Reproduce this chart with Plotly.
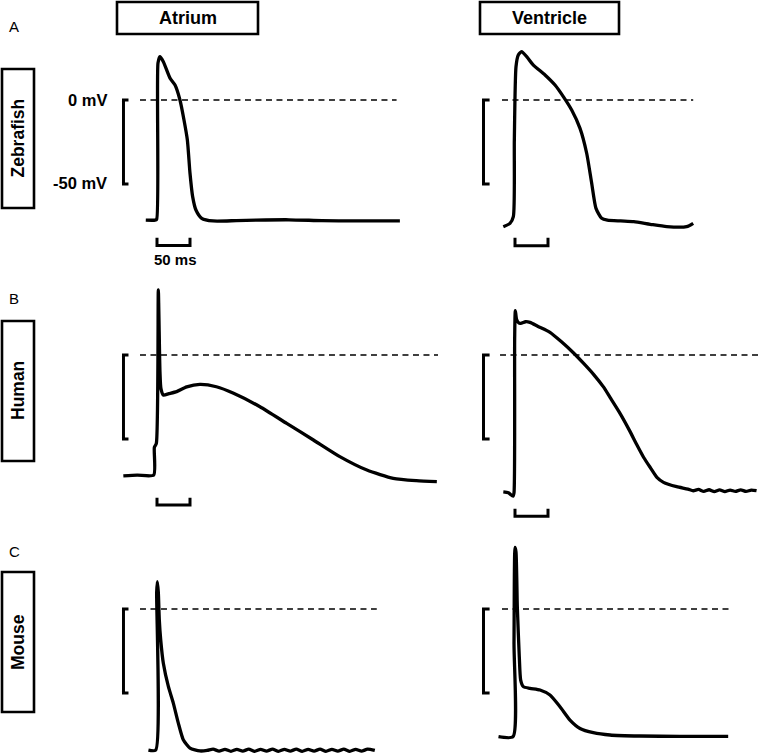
import plotly.graph_objects as go

# ---------------- data (time in ms, membrane potential in mV) ----------------
zebrafish_atrium_t = [-17, -3, -0.5, 1.5, 4.5, 9.6, 19.7, 27.3, 34.8, 40.9, 46, 50, 54, 59, 67.7, 85,
                      120, 150, 200, 250, 300, 368]
zebrafish_atrium_v = [-71.5, -71.5, -71, 22, 25.8, 22.8, 13, 8.9, 0, -11.9, -23.8, -43.6, -57.5, -65.5,
                      -70.4, -72, -71.8, -71.5, -71.3, -71.8, -72, -72]

zebrafish_ventricle_t = [-17.7, -7.6, -2.5, -1, 1.5, 5, 10.1, 17.7, 27.8, 45.5, 60.6, 73.2, 85.9, 98.5,
                         108.6, 116.2, 122.7, 131.3, 140, 160, 180, 205, 230, 260, 270]
zebrafish_ventricle_v = [-75.4, -73.4, -69.4, -23.8, 19.8, 26.8, 28.8, 25.8, 20.8, 14.9, 8.9, 2, -6, -16.9,
                         -31.7, -49.6, -64.5, -70.4, -71.5, -72, -72.4, -74, -75.4, -75.4, -73.4]

human_atrium_t = [-51, -30, -5, -4, -1, 2, 4.5, 6, 9.6, 18, 29.8, 45, 65, 90, 116, 156, 196.5, 237,
                  277, 318, 358, 393, 424]
human_atrium_v = [-72, -71.5, -71.5, -55, -52.6, 38.7, -10, -20, -23.8, -23, -21.8, -19, -17.5, -18.9,
                  -22.8, -30.8, -40.7, -50.6, -60.5, -68.5, -73.4, -74.8, -75.4]

human_ventricle_t = [-17.7, -10, -3, -1.5, -0.5, 0.5, 2.5, 6, 10, 16, 22.7, 35, 53, 70, 88, 104, 119,
                     134, 144, 158, 174, 184, 195, 205, 215, 225, 245, 262, 270, 278, 286, 294, 302,
                     310, 318, 326, 334, 342, 350, 358, 366]
human_ventricle_v = [-81.5, -82, -84, -82, 10, 26.4, 21, 19, 19, 19.8, 19.4, 17, 13.5, 8, 1.5, -5, -11.5,
                     -19, -25.2, -34, -45.3, -53, -61, -67, -72.8, -75.8, -78.4, -79.8, -80.8, -80, -81.2,
                     -80.2, -81.3, -80.3, -81.3, -80.4, -81.2, -80.3, -81.2, -80.4, -80.8]

mouse_atrium_t = [-13, -2, -0.5, 0.5, 2, 3.5, 5.6, 9.6, 17.2, 24.7, 32.3, 39.8, 50, 65, 76, 85, 94,
                  103, 112, 121, 130, 139, 148, 157, 166, 175, 184, 193, 202, 211, 220, 229, 238,
                  247, 256, 265, 274, 283, 292, 301, 310, 319, 330]
mouse_atrium_v = [-84, -84, 10, 16.3, 10, -6.4, -18.3, -32.3, -46.1, -56, -67.9, -77.8, -82.8, -84.5,
                  -84.2, -83.4, -84.6, -83.5, -84.7, -83.5, -84.6, -83.4, -84.7, -83.5, -84.6, -83.4,
                  -84.7, -83.5, -84.6, -83.4, -84.7, -83.5, -84.6, -83.4, -84.7, -83.5, -84.6, -83.4,
                  -84.7, -83.5, -84.6, -83.4, -84.2]

mouse_ventricle_t = [-25, -3, -1.5, 0, 1.5, 3.5, 6.5, 8.6, 12.6, 22.7, 37.9, 53, 68.2, 83.3, 98.5,
                     118.7, 144, 189, 250, 323]
mouse_ventricle_v = [-76, -76, -20, 36.7, 34, 1.4, -28.4, -42.3, -46.2, -47.2, -48.2, -51.2, -58.2,
                     -66.1, -71.1, -73.6, -75, -75.6, -75.8, -75.8]

column_labels = ["Atrium", "Ventricle"]
row_labels = ["Zebrafish", "Human", "Mouse"]
panel_letters = ["A", "B", "C"]
scale_mv = 50   # vertical scale bar (mV)
scale_ms = 50   # horizontal scale bar (ms)

# ---------------- layout geometry ----------------
W, H = 762, 756
KX, KY = 0.66, 1.68          # px per ms, px per mV
col_x0 = [157, 515]          # pixel x of t = 0
row_y0 = [100, 355, 609]     # pixel y of V = 0
col_trange = [(-60, 440), (-60, 373)]
row_vrange = [(-100, 45), (-100, 45), (-87.5, 45)]

panels = [
    # row, col, t, v, dashed range, bracket t (vertical, tick end), time bar (v bar, v tick) or None
    (0, 0, zebrafish_atrium_t, zebrafish_atrium_v, (-25.8, 363), (-50.8, -43.2), (-86.6, -82)),
    (0, 1, zebrafish_ventricle_t, zebrafish_ventricle_v, (-19.7, 270), (-47.7, -38.5), (-86.7, -82)),
    (1, 0, human_atrium_t, human_atrium_v, (-25.8, 425.8), (-50.8, -43.2), (-89.3, -85)),
    (1, 1, human_ventricle_t, human_ventricle_v, (-22.7, 373), (-47.7, -38.5), (-96, -91.5)),
    (2, 0, mouse_atrium_t, mouse_atrium_v, (-25.8, 333), (-50.8, -43.2), None),
    (2, 1, mouse_ventricle_t, mouse_ventricle_v, (-19.7, 325.8), (-47.7, -38.5), None),
]

fig = go.Figure()
layout_axes = {}
for i, (r, c, t, v, dash_rng, brk, tbar) in enumerate(panels, start=1):
    xa = "x" if i == 1 else f"x{i}"
    ya = "y" if i == 1 else f"y{i}"
    tmin, tmax = col_trange[c]
    vmin, vmax = row_vrange[r]
    x0, y0 = col_x0[c], row_y0[r]
    xd = [max(0, (x0 + tmin * KX) / W), min(1, (x0 + tmax * KX) / W)]
    yd = [max(0, 1 - (y0 - vmin * KY) / H), min(1, 1 - (y0 - vmax * KY) / H)]
    axkw = dict(visible=False, fixedrange=True, showgrid=False, zeroline=False)
    layout_axes["xaxis" if i == 1 else f"xaxis{i}"] = dict(domain=xd, range=[tmin, tmax], anchor=ya, **axkw)
    layout_axes["yaxis" if i == 1 else f"yaxis{i}"] = dict(domain=yd, range=[vmin, vmax], anchor=xa, **axkw)

    # 0 mV dashed reference
    fig.add_trace(go.Scatter(x=list(dash_rng), y=[0, 0], mode="lines", xaxis=xa, yaxis=ya,
                             line=dict(color="black", width=1.7, dash="6px,4.5px"), hoverinfo="skip"))
    # vertical 50 mV bracket
    fig.add_trace(go.Scatter(x=[brk[1], brk[0], brk[0], brk[1]], y=[0, 0, -scale_mv, -scale_mv],
                             mode="lines", xaxis=xa, yaxis=ya,
                             line=dict(color="black", width=3), hoverinfo="skip"))
    # 50 ms time bar
    if tbar is not None:
        fig.add_trace(go.Scatter(x=[0, 0, scale_ms, scale_ms], y=[tbar[1], tbar[0], tbar[0], tbar[1]],
                                 mode="lines", xaxis=xa, yaxis=ya,
                                 line=dict(color="black", width=3), hoverinfo="skip"))
    # action potential
    fig.add_trace(go.Scatter(x=t, y=v, mode="lines", xaxis=xa, yaxis=ya,
                             line=dict(color="black", width=3.3, shape="spline", smoothing=0.6)))

FONT = "Liberation Sans, Arial, Helvetica, sans-serif"
shapes = []
annotations = []

def px_x(p):
    return p / W

def px_y(p):
    return 1 - p / H

# column header boxes
for lab, (xl, xr) in zip(column_labels, [(117, 258), (480, 619)]):
    shapes.append(dict(type="rect", xref="paper", yref="paper", x0=px_x(xl), x1=px_x(xr),
                       y0=px_y(34), y1=px_y(2), line=dict(color="black", width=2.6)))
    annotations.append(dict(text=f"<b>{lab}</b>", x=px_x((xl + xr) / 2), y=px_y(18), xref="paper",
                            yref="paper", showarrow=False, font=dict(size=18, color="black", family=FONT),
                            xanchor="center", yanchor="middle"))

# row label boxes (rotated text)
for lab, (yt, yb) in zip(row_labels, [(69, 208), (321, 461), (572, 712)]):
    shapes.append(dict(type="rect", xref="paper", yref="paper", x0=px_x(2), x1=px_x(34),
                       y0=px_y(yb), y1=px_y(yt), line=dict(color="black", width=2.6)))
    annotations.append(dict(text=f"<b>{lab}</b>", x=px_x(18), y=px_y((yt + yb) / 2), xref="paper",
                            yref="paper", showarrow=False, textangle=-90,
                            font=dict(size=17.5, color="black", family=FONT),
                            xanchor="center", yanchor="middle"))

# panel letters
for lab, yy in zip(panel_letters, [27, 298, 551]):
    annotations.append(dict(text=lab, x=px_x(14), y=px_y(yy), xref="paper", yref="paper",
                            showarrow=False, font=dict(size=15, color="black", family=FONT),
                            xanchor="center", yanchor="middle"))

# scale labels
annotations.append(dict(text="<b>0 mV</b>", x=px_x(109), y=px_y(100), xref="paper", yref="paper",
                        showarrow=False, font=dict(size=16.5, color="black", family=FONT),
                        xanchor="right", yanchor="middle"))
annotations.append(dict(text="<b>-50 mV</b>", x=px_x(109), y=px_y(183), xref="paper", yref="paper",
                        showarrow=False, font=dict(size=16.5, color="black", family=FONT),
                        xanchor="right", yanchor="middle"))
annotations.append(dict(text="<b>50 ms</b>", x=px_x(175), y=px_y(259), xref="paper", yref="paper",
                        showarrow=False, font=dict(size=15, color="black", family=FONT),
                        xanchor="center", yanchor="middle"))

fig.update_layout(
    width=W, height=H, margin=dict(l=0, r=0, t=0, b=0),
    paper_bgcolor="white", plot_bgcolor="rgba(0,0,0,0)",
    showlegend=False, shapes=shapes, annotations=annotations, **layout_axes,
)

fig.write_html("out.html", config={"displayModeBar": False},
               post_script="document.body.style.margin='0';document.body.style.overflow='hidden';")
